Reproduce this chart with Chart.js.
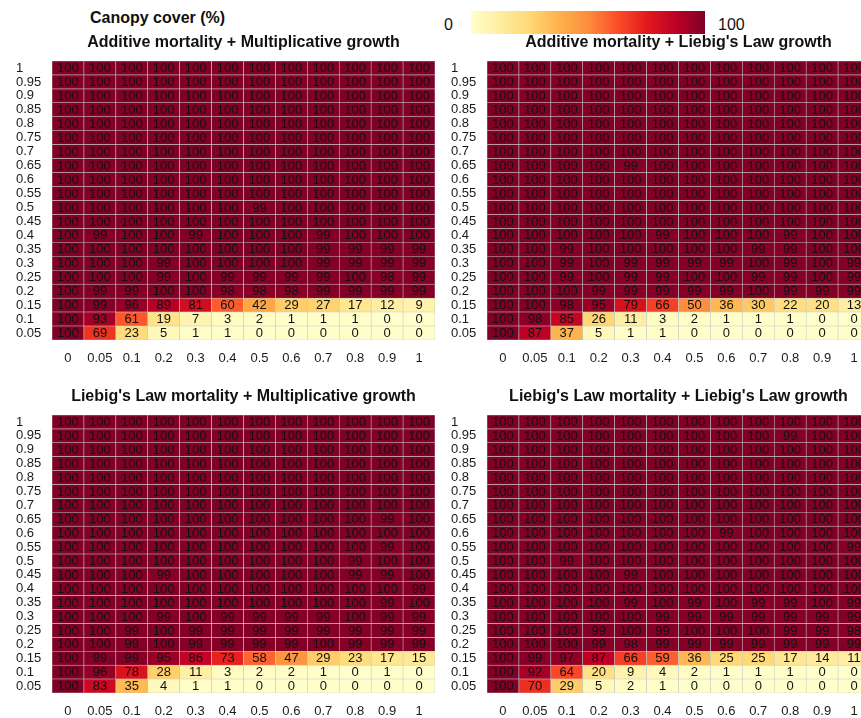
<!DOCTYPE html>
<html>
<head>
<meta charset="utf-8">
<script src="https://cdn.jsdelivr.net/npm/chart.js@4.4.1/dist/chart.umd.min.js"></script>
<style>
  html, body { margin: 0; padding: 0; background: #ffffff; }
  #page { position: relative; width: 861px; height: 718px; overflow: hidden;
          font-family: "Liberation Sans", Arial, sans-serif; color: #111; }
  .panel { position: absolute; }
  #legendTitle { position: absolute; left: 90px; top: 8px; font-size: 16px; line-height: 20px; font-weight: bold; }
  #legendBar { position: absolute; left: 471px; top: 11px; width: 234px; height: 23px; }
  #legendMin { position: absolute; left: 444px; top: 15px; font-size: 16px; line-height: 20px; }
  #legendMax { position: absolute; left: 718px; top: 15px; font-size: 16px; line-height: 20px; }
</style>
</head>
<body>
<div id="page">
  <div id="legendTitle">Canopy cover (%)</div>
  <div id="legendMin">0</div>
  <div id="legendBar"></div>
  <div id="legendMax">100</div>
  <div class="panel" style="left:0px;top:30px;"><canvas id="p1" width="440" height="340"></canvas></div>
  <div class="panel" style="left:440px;top:30px;"><canvas id="p2" width="440" height="340"></canvas></div>
  <div class="panel" style="left:0px;top:384px;"><canvas id="p3" width="440" height="339"></canvas></div>
  <div class="panel" style="left:440px;top:384px;"><canvas id="p4" width="440" height="339"></canvas></div>
</div>
<script>
// Column categories (x) and row categories (y, listed top to bottom)
const columnLabels = ['0', '0.05', '0.1', '0.2', '0.3', '0.4', '0.5', '0.6', '0.7', '0.8', '0.9', '1'];
const rowLabels = ['1', '0.95', '0.9', '0.85', '0.8', '0.75', '0.7', '0.65', '0.6', '0.55',
                   '0.5', '0.45', '0.4', '0.35', '0.3', '0.25', '0.2', '0.15', '0.1', '0.05'];

const panelTitles = [
  'Additive mortality + Multiplicative growth',
  "Additive mortality + Liebig's Law growth",
  "Liebig's Law mortality + Multiplicative growth",
  "Liebig's Law mortality + Liebig's Law growth"
];

// Canopy cover (%) per cell, rows in the same order as rowLabels
const additiveMultiplicative = [
  [100,100,100,100,100,100,100,100,100,100,100,100],
  [100,100,100,100,100,100,100,100,100,100,100,100],
  [100,100,100,100,100,100,100,100,100,100,100,100],
  [100,100,100,100,100,100,100,100,100,100,100,100],
  [100,100,100,100,100,100,100,100,100,100,100,100],
  [100,100,100,100,100,100,100,100,100,100,100,100],
  [100,100,100,100,100,100,100,100,100,100,100,100],
  [100,100,100,100,100,100,100,100,100,100,100,100],
  [100,100,100,100,100,100,100,100,100,100,100,100],
  [100,100,100,100,100,100,100,100,100,100,100,100],
  [100,100,100,100,100,100,99,100,100,100,100,100],
  [100,100,100,100,100,100,100,100,100,100,100,100],
  [100,99,100,100,99,100,100,100,99,100,100,100],
  [100,100,100,100,100,100,100,100,99,99,99,99],
  [100,100,100,99,100,100,100,100,99,99,99,99],
  [100,100,100,99,100,99,99,99,99,100,98,99],
  [100,99,99,100,100,98,98,98,99,99,99,99],
  [100,99,96,89,81,60,42,29,27,17,12,9],
  [100,93,61,19,7,3,2,1,1,1,0,0],
  [100,69,23,5,1,1,0,0,0,0,0,0]
];

const additiveLiebig = [
  [100,100,100,100,100,100,100,100,100,100,100,100],
  [100,100,100,100,100,100,100,100,100,100,100,100],
  [100,100,100,100,100,100,100,100,100,100,100,100],
  [100,100,100,100,100,100,100,100,100,100,100,100],
  [100,100,100,100,100,100,100,100,100,100,100,100],
  [100,100,100,100,100,100,100,100,100,100,100,100],
  [100,100,100,100,100,100,100,100,100,100,100,100],
  [100,100,100,100,99,100,100,100,100,100,100,100],
  [100,100,100,100,100,100,100,100,100,100,100,100],
  [100,100,100,100,100,100,100,100,100,100,100,100],
  [100,100,100,100,100,100,100,100,100,100,100,100],
  [100,100,100,100,100,100,100,100,100,100,100,100],
  [100,100,100,100,100,99,100,100,100,99,100,100],
  [100,100,99,100,100,100,100,100,99,99,100,100],
  [100,100,99,100,99,99,99,99,100,99,100,99],
  [100,100,99,100,99,99,100,100,99,99,100,99],
  [100,100,100,99,99,99,99,99,100,99,99,99],
  [100,100,98,95,79,66,50,36,30,22,20,13],
  [100,98,85,26,11,3,2,1,1,1,0,0],
  [100,87,37,5,1,1,0,0,0,0,0,0]
];

const liebigMultiplicative = [
  [100,100,100,100,100,100,100,100,100,100,100,100],
  [100,100,100,100,100,100,100,100,100,100,100,100],
  [100,100,100,100,100,100,100,100,100,100,100,100],
  [100,100,100,100,100,100,100,100,100,100,100,100],
  [100,100,100,100,100,100,100,100,100,100,100,100],
  [100,100,100,100,100,100,100,100,100,100,100,100],
  [100,100,100,100,100,100,100,100,100,100,100,100],
  [100,100,100,100,100,100,100,100,100,100,99,100],
  [100,100,100,100,100,100,100,100,100,100,100,100],
  [100,100,100,100,100,100,100,100,100,100,99,100],
  [100,100,100,100,100,100,100,100,100,99,100,100],
  [100,100,100,99,100,100,100,100,100,99,99,100],
  [100,100,100,100,100,100,100,100,100,100,100,99],
  [100,100,100,100,100,100,100,100,100,100,99,100],
  [100,100,100,99,100,99,99,99,99,100,99,99],
  [100,100,99,100,99,99,99,99,99,99,99,99],
  [100,100,99,100,99,99,99,99,100,99,99,99],
  [100,99,99,95,86,73,58,47,29,23,17,15],
  [100,96,78,28,11,3,2,2,1,0,1,0],
  [100,83,35,4,1,1,0,0,0,0,0,0]
];

const liebigLiebig = [
  [100,100,100,100,100,100,100,100,100,100,100,100],
  [100,100,100,100,100,100,100,100,100,99,100,100],
  [100,100,100,100,100,100,100,100,100,100,100,100],
  [100,100,100,100,100,100,100,100,100,100,100,100],
  [100,100,100,100,100,100,100,100,100,100,100,100],
  [100,100,100,100,100,100,100,100,100,100,100,100],
  [100,100,100,100,100,100,100,100,100,100,100,100],
  [100,100,100,100,100,100,100,100,100,100,100,100],
  [100,100,100,100,100,100,100,99,100,100,100,100],
  [100,100,100,100,100,100,100,100,100,100,100,99],
  [100,100,99,100,100,100,100,100,100,100,100,100],
  [100,100,100,100,99,100,100,100,100,100,100,100],
  [100,100,100,100,100,100,100,100,100,100,100,100],
  [100,100,100,100,99,100,99,100,99,99,100,99],
  [100,100,100,100,100,99,99,99,99,99,99,99],
  [100,100,100,99,100,99,100,100,100,99,99,98],
  [100,100,100,99,98,99,99,99,99,99,99,99],
  [100,99,97,87,66,59,36,25,25,17,14,11],
  [100,92,64,20,9,4,2,1,1,1,0,0],
  [100,70,29,5,2,1,0,0,0,0,0,0]
];

// Yellow-orange-red colour ramp, 0 -> 100
const rampStops = ['#ffffcc', '#ffeda0', '#fed976', '#feb24c', '#fd8d3c', '#fc4e2a', '#e31a1c', '#bd0026', '#800026'];

function hexToRgb(h) {
  return [parseInt(h.slice(1, 3), 16), parseInt(h.slice(3, 5), 16), parseInt(h.slice(5, 7), 16)];
}
function colorFor(v) {
  const t = Math.max(0, Math.min(1, v / 100)) * (rampStops.length - 1);
  const i = Math.min(rampStops.length - 2, Math.floor(t));
  const f = t - i;
  const a = hexToRgb(rampStops[i]), b = hexToRgb(rampStops[i + 1]);
  const c = a.map((x, k) => Math.round(x + (b[k] - x) * f));
  return `rgb(${c[0]},${c[1]},${c[2]})`;
}

document.getElementById('legendBar').style.background =
  'linear-gradient(to right,' + rampStops.join(',') + ')';

const FONT = '"Liberation Sans", Arial, sans-serif';

// Writes each cell's value at the centre of its bar element
const cellText = {
  id: 'cellText',
  afterDatasetsDraw(chart) {
    const ctx = chart.ctx;
    ctx.save();
    ctx.font = '13px ' + FONT;
    ctx.fillStyle = '#111111';
    ctx.textAlign = 'center';
    ctx.textBaseline = 'middle';
    chart.data.datasets.forEach((ds, d) => {
      const meta = chart.getDatasetMeta(d);
      meta.data.forEach((el, i) => {
        const cy = (el.y + el.base) / 2;
        ctx.fillText(String(ds.values[i]), el.x, cy + 0.5);
      });
    });
    ctx.restore();
  }
};

function makeHeatmap(canvasId, title, grid, padLeft, padRight) {
  const n = rowLabels.length;
  const datasets = [];
  // stacked from the bottom row upwards
  for (let k = 0; k < n; k++) {
    const row = grid[n - 1 - k];
    datasets.push({
      label: rowLabels[n - 1 - k],
      data: columnLabels.map(() => 1),
      values: row,
      backgroundColor: row.map(colorFor),
      borderColor: '#c6c6c6',
      borderWidth: 0.6,
      borderSkipped: false,
      barPercentage: 1,
      categoryPercentage: 1,
      stack: 'rows'
    });
  }
  return new Chart(document.getElementById(canvasId), {
    type: 'bar',
    data: { labels: columnLabels, datasets },
    options: {
      responsive: false,
      animation: false,
      events: [],
      layout: { padding: { left: padLeft, right: padRight, top: 3, bottom: 0 } },
      plugins: {
        legend: { display: false },
        tooltip: { enabled: false },
        title: {
          display: true,
          text: title,
          fullSize: false,
          color: '#111111',
          font: { family: FONT, size: 16, weight: 'bold' },
          padding: { top: 0, bottom: 8.8 }
        }
      },
      scales: {
        x: {
          type: 'category',
          stacked: true,
          grid: { display: false, drawTicks: false },
          border: { display: false },
          ticks: {
            color: '#1a1a1a',
            font: { family: FONT, size: 13 },
            padding: 10.5,
            autoSkip: false,
            maxRotation: 0
          },
          afterFit(s) { s.height = 30; s.paddingLeft = 0; s.paddingRight = 0; }
        },
        y: {
          type: 'linear',
          stacked: true,
          min: 0,
          max: n,
          grid: { display: false, drawTicks: false },
          border: { display: false },
          afterBuildTicks(s) { s.ticks = rowLabels.map((_, i) => ({ value: i + 0.5 })); },
          ticks: {
            color: '#1a1a1a',
            font: { family: FONT, size: 13 },
            crossAlign: 'far',
            padding: 0,
            autoSkip: false,
            callback: (value, index) => rowLabels[n - 1 - index]
          },
          afterFit(s) { s.width = 36; s.paddingTop = 0; s.paddingBottom = 0; }
        }
      }
    },
    plugins: [cellText]
  });
}

makeHeatmap('p1', panelTitles[0], additiveMultiplicative, 16, 5);
makeHeatmap('p2', panelTitles[1], additiveLiebig, 11, 10);
makeHeatmap('p3', panelTitles[2], liebigMultiplicative, 16, 5);
makeHeatmap('p4', panelTitles[3], liebigLiebig, 11, 10);
</script>
</body>
</html>
